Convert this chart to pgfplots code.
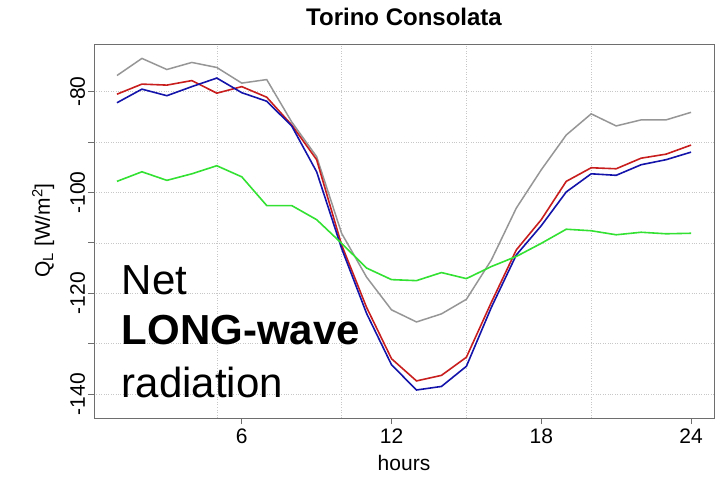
\documentclass[border=0pt]{standalone}
\usepackage{fontspec}
\setmainfont{Liberation Sans}
\usepackage{pgfplots}
\pgfplotsset{compat=1.18}
\definecolor{cgray}{RGB}{150,150,150}
\definecolor{cred}{RGB}{200,30,30}
\definecolor{cblue}{RGB}{20,20,170}
\definecolor{cgreen}{RGB}{50,225,50}
\definecolor{axcol}{RGB}{110,110,110}
\pgfplotstableread{
h gray red blue green
1 -76.8 -80.5 -82.2 -97.8
2 -73.4 -78.5 -79.5 -95.9
3 -75.6 -78.7 -80.8 -97.6
4 -74.2 -77.8 -79.0 -96.3
5 -75.2 -80.3 -77.3 -94.7
6 -78.3 -79.0 -80.2 -96.9
7 -77.6 -81.1 -81.9 -102.6
8 -86.0 -86.6 -86.8 -102.6
9 -92.9 -93.5 -95.9 -105.4
10 -108.1 -110.4 -111.1 -110.1
11 -116.8 -122.8 -124.0 -115.0
12 -123.3 -133.0 -134.2 -117.3
13 -125.7 -137.4 -139.2 -117.5
14 -124.1 -136.3 -138.5 -115.9
15 -121.2 -132.7 -134.5 -117.1
16 -113.4 -121.8 -122.8 -114.7
17 -103.1 -111.4 -112.4 -112.7
18 -95.5 -105.4 -106.6 -110.1
19 -88.6 -97.8 -99.9 -107.3
20 -84.4 -95.1 -96.3 -107.6
21 -86.8 -95.3 -96.6 -108.4
22 -85.6 -93.2 -94.5 -107.9
23 -85.6 -92.4 -93.5 -108.2
24 -84.1 -90.6 -92.0 -108.1
}\datatab
\begin{document}
\begin{tikzpicture}
\path[use as bounding box] (-94pt,-61pt) rectangle (634pt,418pt);
\begin{axis}[at={(0pt,0pt)}, anchor=south west, scale only axis,
  width=620pt, height=374pt,
  xmin=0.08, xmax=24.92, ymin=-144.76, ymax=-70.54,
  xtick={6,12,18,24}, xticklabels={6,12,18,24},
  ytick={-140,-130,-120,-110,-100,-90,-80},
  yticklabels={-140,,-120,,-100,,-80},
  minor xtick={5,10,15,20},
  xminorgrids=true, xmajorgrids=false, ymajorgrids=true,
  grid style={dotted, black!22, line width=0.6pt},
  minor grid style={dotted, black!22, line width=0.6pt},
  minor tick length=0pt, major tick length=6pt,
  tick align=outside, xtick pos=bottom, ytick pos=left,
  axis line style={axcol, line width=0.9pt},
  major tick style={axcol, line width=0.8pt},
  tick label style={font=\fontsize{21}{21}\selectfont},
  xticklabel style={anchor=base, yshift=-19pt},
  yticklabel style={xshift=-3pt, rotate=90, anchor=base},
  clip=false,
]
\addplot[cgray, line width=1.5pt] table[x=h, y=gray] {\datatab};
\addplot[cred, line width=1.6pt] table[x=h, y=red] {\datatab};
\addplot[cblue, line width=1.6pt] table[x=h, y=blue] {\datatab};
\addplot[cgreen, line width=1.6pt] table[x=h, y=green] {\datatab};
\end{axis}
\node[anchor=base, font=\fontsize{24}{24}\selectfont\bfseries] at (310pt,392pt) {Torino Consolata};
\node[anchor=base, font=\fontsize{21}{21}\selectfont] at (310pt,-52pt) {hours};
\node[anchor=base, rotate=90, font=\fontsize{21}{21}\selectfont] at (-44pt,187.5pt) {Q\textsubscript{L} [W/m\textsuperscript{2}]};
\node[anchor=base west, inner sep=0pt, font=\fontsize{42}{42}\selectfont] at (27.7pt,123pt) {Net};
\node[anchor=base west, inner sep=0pt, font=\fontsize{42}{42}\selectfont\bfseries] at (27.7pt,73pt) {LONG-wave};
\node[anchor=base west, inner sep=0pt, font=\fontsize{42}{42}\selectfont] at (27.7pt,20pt) {radiation};
\end{tikzpicture}
\end{document}
